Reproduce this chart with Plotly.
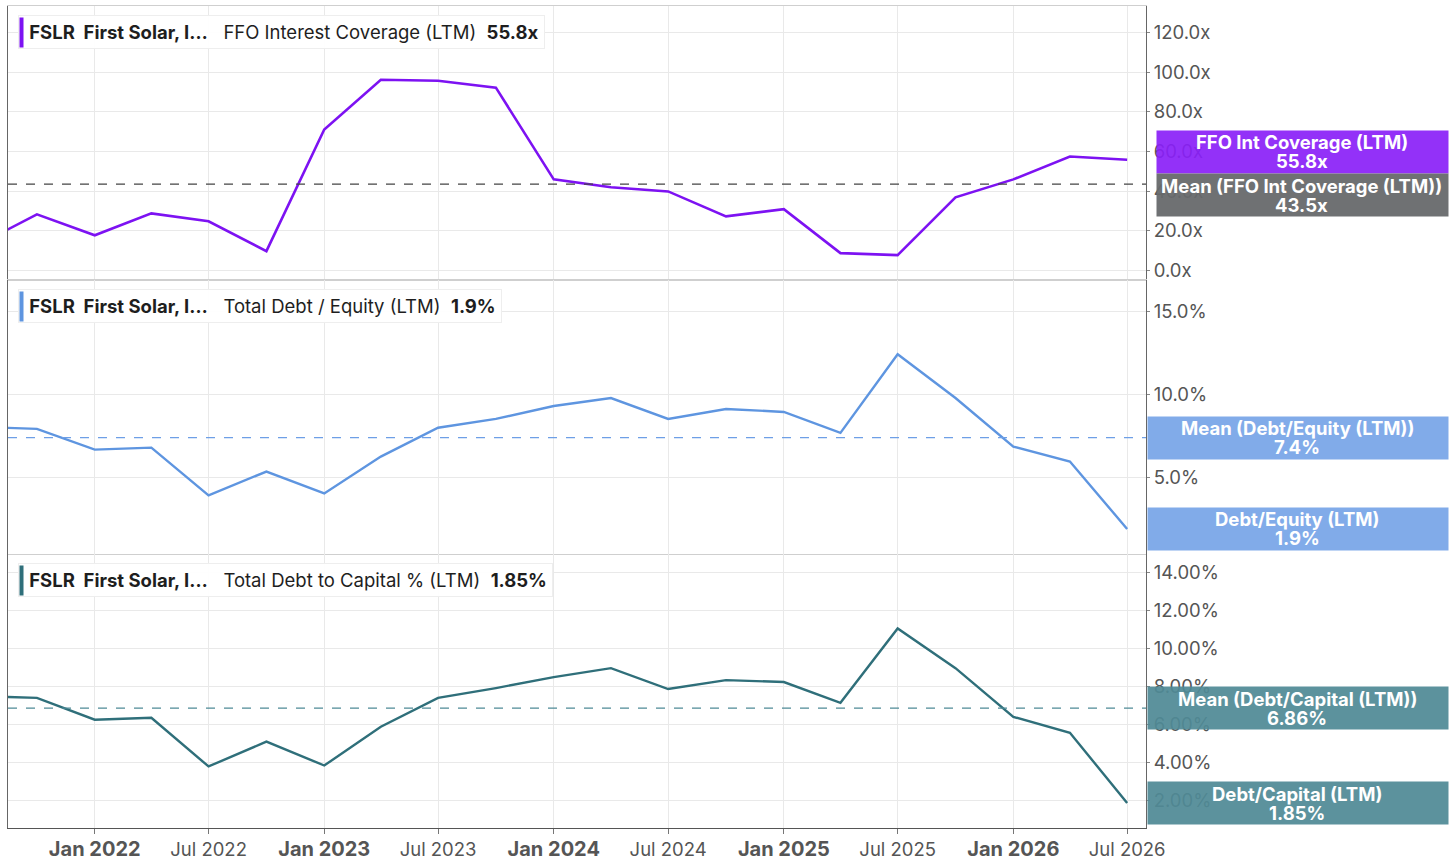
import plotly.graph_objects as go
from plotly.subplots import make_subplots

# quarterly LTM readings
dates = ['2021-07-01', '2021-10-01', '2022-01-01', '2022-04-01', '2022-07-01', '2022-10-01',
         '2023-01-01', '2023-04-01', '2023-07-01', '2023-10-01', '2024-01-01', '2024-04-01',
         '2024-07-01', '2024-10-01', '2025-01-01', '2025-04-01', '2025-07-01', '2025-10-01',
         '2026-01-01', '2026-04-01', '2026-07-01']
ffo_cov = [13.0, 28.2, 17.6, 28.7, 24.7, 9.6, 71.1, 96.3, 95.8, 92.3, 45.9, 41.9,
           39.8, 27.2, 30.8, 8.6, 7.6, 36.8, 45.9, 57.5, 55.8]
debt_equity = [8.05, 7.93, 6.68, 6.80, 3.92, 5.36, 4.04, 6.26, 8.0, 8.53, 9.31, 9.79,
               8.53, 9.13, 8.95, 7.69, 12.43, 9.79, 6.86, 5.96, 1.9]
debt_capital = [7.5, 7.40, 6.25, 6.35, 3.78, 5.09, 3.83, 5.88, 7.40, 7.92, 8.50, 8.97,
                7.87, 8.34, 8.24, 7.14, 11.07, 8.97, 6.40, 5.56, 1.85]
ffo_mean = 43.5
de_mean = 7.4
dc_mean = 6.86

tick_dates = ['2022-01-01', '2022-07-01', '2023-01-01', '2023-07-01', '2024-01-01', '2024-07-01',
              '2025-01-01', '2025-07-01', '2026-01-01', '2026-07-01']
tick_labels = ['Jan 2022', 'Jul 2022', 'Jan 2023', 'Jul 2023', 'Jan 2024', 'Jul 2024',
               'Jan 2025', 'Jul 2025', 'Jan 2026', 'Jul 2026']

PURPLE = '#7D12F2'
BLUE = '#5E95E0'
TEAL = '#2F6F7A'
FONT = 'Inter, Roboto, sans-serif'

fig = make_subplots(rows=3, cols=1, shared_xaxes=True, vertical_spacing=0)

fig.add_trace(go.Scatter(x=dates, y=ffo_cov, mode='lines', line=dict(color=PURPLE, width=2.6)), row=1, col=1)
fig.add_trace(go.Scatter(x=dates, y=debt_equity, mode='lines', line=dict(color=BLUE, width=2.4)), row=2, col=1)
fig.add_trace(go.Scatter(x=dates, y=debt_capital, mode='lines', line=dict(color=TEAL, width=2.4)), row=3, col=1)

# dashed mean lines
for i, (m, c) in enumerate([(ffo_mean, '#444444'), (de_mean, '#6E9FE6'), (dc_mean, '#4F8A96')], start=1):
    yr = 'y' if i == 1 else 'y%d' % i
    fig.add_shape(type='line', xref='paper', x0=0, x1=1, yref=yr, y0=m, y1=m,
                  line=dict(color=c, width=1.2, dash='dash'))

# x tick text: Jan bold and larger
ticktext = []
for t in tick_labels:
    if t.startswith('Jan'):
        ticktext.append("<b><span style='font-size:20px'>%s</span></b>" % t)
    else:
        ticktext.append(t)

xcommon = dict(range=['2021-08-16', '2026-07-31'], tickvals=tick_dates, ticktext=ticktext,
               gridcolor='#e9e9e9', showline=True, zeroline=False)
fig.update_xaxes(**xcommon)
fig.update_xaxes(linecolor='#cfcfcf', mirror=True, row=1, col=1)
fig.update_xaxes(linecolor='#cfcfcf', mirror=True, row=2, col=1)
fig.update_xaxes(linecolor='#555555', ticks='outside', ticklen=5, tickcolor='#777777',
                 tickfont=dict(size=18.5, color='#555555', family=FONT), row=3, col=1)

ycommon = dict(side='right', gridcolor='#e9e9e9', showline=True, linecolor='#666666', mirror=True,
               ticks='outside', ticklen=3, tickcolor='#888888', zeroline=False,
               tickfont=dict(size=18.5, color='#555555', family=FONT))
fig.update_yaxes(**ycommon)
fig.update_yaxes(range=[-5, 133.6], dtick=20, tickformat='.1f', ticksuffix='x', row=1, col=1)
fig.update_yaxes(range=[0.39, 16.9], dtick=5, tickformat='.1f', ticksuffix='%', row=2, col=1)
fig.update_yaxes(range=[0.53, 15.0], tick0=0, dtick=2, tickformat='.2f', ticksuffix='%', row=3, col=1)

# legend chips at top-left of each panel
chips = [
    ('y', PURPLE, 'FFO Interest Coverage (LTM)', '%.1fx' % ffo_cov[-1]),
    ('y2', BLUE, 'Total Debt / Equity (LTM)', '%.1f%%' % debt_equity[-1]),
    ('y3', TEAL, 'Total Debt to Capital % (LTM)', '%.2f%%' % debt_capital[-1]),
]
for yr, c, name, val in chips:
    fig.add_annotation(xref='paper', yref=yr + ' domain', x=0.0088, y=1, xanchor='left', yanchor='top',
                       yshift=-9, showarrow=False, align='left',
                       text='&nbsp;<b>FSLR&nbsp;&nbsp;First Solar, I…</b>&nbsp;&nbsp;&nbsp;' + name +
                            '&nbsp;&nbsp;<b>' + val + '</b>',
                       font=dict(size=18.5, color='#1e1e1e', family=FONT),
                       bgcolor='rgba(255,255,255,0.92)', bordercolor='#eeeeee', borderwidth=1, borderpad=5)
    # coloured marker bar drawn on top of the chip
    fig.add_annotation(xref='paper', yref=yr + ' domain', x=0.0095, y=1, xanchor='left', yanchor='top',
                       yshift=-11, showarrow=False, text='&nbsp;', width=1, height=27,
                       bgcolor=c, borderpad=1, font=dict(size=4))

# value boxes on the right: (axis, value, label, value text, colour, x, width, yshift)
boxes = [
    ('y', ffo_cov[-1], 'FFO Int Coverage (LTM)', '%.1fx' % ffo_cov[-1], 'rgba(138,31,247,0.92)', 1.0088, 291, 8),
    ('y', ffo_mean, 'Mean (FFO Int Coverage (LTM))', '%.1fx' % ffo_mean, 'rgba(103,105,108,0.95)', 1.0088, 291, -11),
    ('y2', de_mean, 'Mean (Debt/Equity (LTM))', '%.1f%%' % de_mean, 'rgba(122,166,232,0.95)', 1.0009, 300, 0),
    ('y2', debt_equity[-1], 'Debt/Equity (LTM)', '%.1f%%' % debt_equity[-1], 'rgba(122,166,232,0.95)', 1.0009, 300, 0),
    ('y3', dc_mean, 'Mean (Debt/Capital (LTM))', '%.2f%%' % dc_mean, 'rgba(80,138,150,0.93)', 1.0009, 300, 0),
    ('y3', debt_capital[-1], 'Debt/Capital (LTM)', '%.2f%%' % debt_capital[-1], 'rgba(80,138,150,0.93)', 1.0009, 300, 0),
]
for yr, v, label, vtxt, c, x, w, shift in boxes:
    fig.add_annotation(xref='paper', yref=yr, x=x, y=v, xanchor='left', yanchor='middle', yshift=shift,
                       showarrow=False, text='&nbsp;', width=w, height=42, bgcolor=c, borderpad=0,
                       font=dict(size=4))
    xc = x + (w / 2.0) / 1138.0
    for line_txt, dy in ((label, 9.5), (vtxt, -9.5)):
        fig.add_annotation(xref='paper', yref=yr, x=xc, y=v, xanchor='center', yanchor='middle',
                           yshift=shift + dy, showarrow=False, text='<b>' + line_txt + '</b>',
                           font=dict(size=18.5, color='white', family=FONT))

fig.update_layout(width=1456, height=866, margin=dict(l=8, r=310, t=5, b=34),
                  paper_bgcolor='white', plot_bgcolor='white', showlegend=False,
                  font=dict(family=FONT))

# drop the default page margin so the figure sits at the window's corner
fig.write_html('out.html', config={'displayModeBar': False},
               post_script="document.body.style.margin='0';")
